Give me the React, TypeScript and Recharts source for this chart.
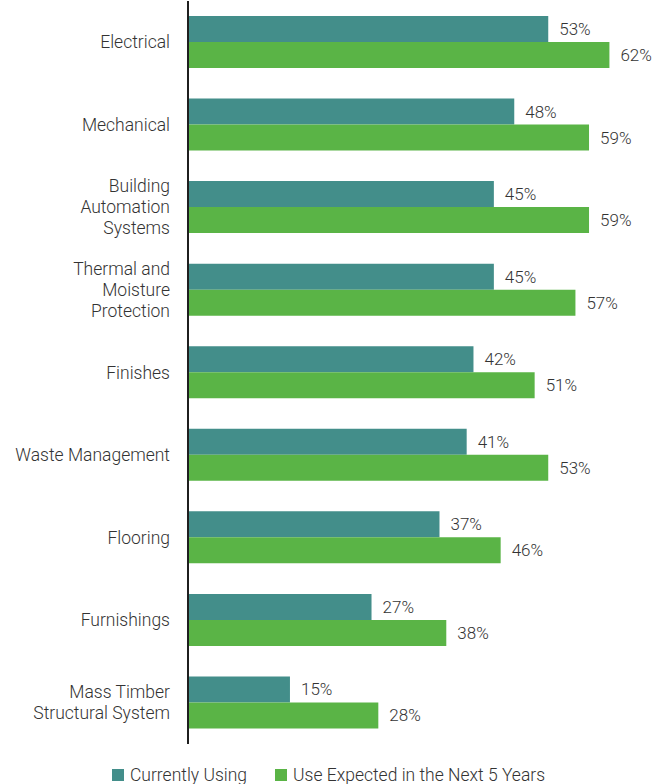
import { BarChart, Bar, XAxis, YAxis, Legend, LabelList } from 'recharts'

const categories = [
  'Electrical',
  'Mechanical',
  'Building\nAutomation\nSystems',
  'Thermal and\nMoisture\nProtection',
  'Finishes',
  'Waste Management',
  'Flooring',
  'Furnishings',
  'Mass Timber\nStructural System',
]
const currentlyUsing = [53, 48, 45, 45, 42, 41, 37, 27, 15]
const expectedNext5 = [62, 59, 59, 57, 51, 53, 46, 38, 28]

const SERIES = [
  { key: 'current', name: 'Currently Using', color: '#438e8a' },
  { key: 'expected', name: 'Use Expected in the Next 5 Years', color: '#5ab446' },
]

const FONT = "Roboto, 'Open Sans', sans-serif"
const TEXT = '#333333'

const data = categories.map((c, i) => ({
  category: c,
  current: currentlyUsing[i],
  expected: expectedNext5[i],
}))

const CategoryTick = ({ x, y, payload }: { x?: number; y?: number; payload?: { value: string } }) => {
  const lines = (payload?.value ?? '').split('\n')
  const lh = 21
  const start = -((lines.length - 1) * lh) / 2
  const tx = (x ?? 0) - 10
  return (
    <text x={tx} y={y} textAnchor="end" fill={TEXT} fontFamily={FONT} fontSize={17.5} fontWeight={300}>
      {lines.map((l, i) => (
        <tspan key={i} x={tx} dy={i === 0 ? start + 6 : lh}>{l}</tspan>
      ))}
    </text>
  )
}

const LegendBox = () => (
  <div style={{
    display: 'flex', justifyContent: 'center', alignItems: 'flex-end', gap: 28,
    height: 40, fontFamily: FONT, fontSize: 17.5, fontWeight: 300, color: TEXT,
  }}>
    {SERIES.map(s => (
      <div key={s.key} style={{ display: 'flex', alignItems: 'center', gap: 6, lineHeight: '18px' }}>
        <div style={{ width: 12, height: 12, background: s.color }} />
        <span>{s.name}</span>
      </div>
    ))}
  </div>
)

export default function App() {
  return (
    <div style={{ position: 'absolute', left: 0, top: 0 }}>
      <BarChart
        width={657}
        height={784}
        data={data}
        layout="vertical"
        margin={{ top: 1, right: 0, left: 0, bottom: 0 }}
        barGap={0}
      >
        <XAxis type="number" domain={[0, 69]} hide />
        <YAxis
          type="category"
          dataKey="category"
          width={188}
          axisLine={{ stroke: '#1f1f1f', strokeWidth: 2 }}
          tickLine={false}
          tick={<CategoryTick />}
          interval={0}
        />
        <Legend verticalAlign="bottom" content={<LegendBox />} wrapperStyle={{ height: 40 }} />
        {SERIES.map(s => (
          <Bar key={s.key} dataKey={s.key} name={s.name} fill={s.color} barSize={26} isAnimationActive={false}>
            <LabelList
              dataKey={s.key}
              position="right"
              offset={11}
              formatter={(v: number) => `${v}%`}
              style={{ fill: TEXT, fontFamily: FONT, fontSize: 17, fontWeight: 300 }}
            />
          </Bar>
        ))}
      </BarChart>
    </div>
  )
}
